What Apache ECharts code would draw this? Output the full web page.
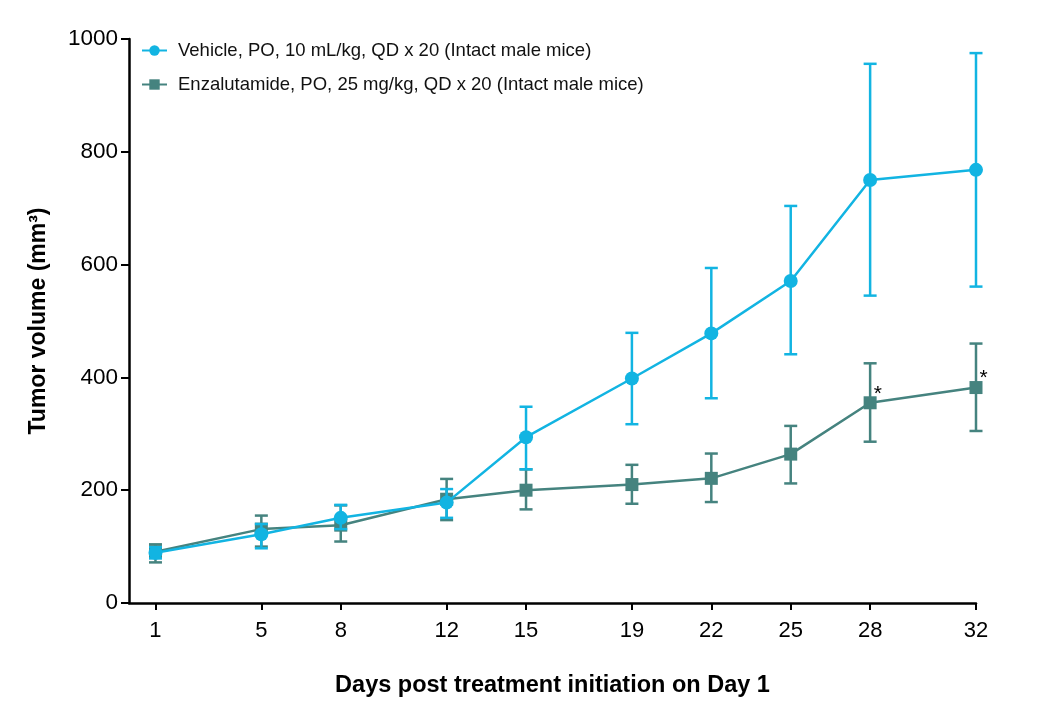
<!DOCTYPE html>
<html>
<head>
<meta charset="utf-8">
<script src="https://cdn.jsdelivr.net/npm/echarts@6/dist/echarts.min.js"></script>
<style>
html,body{margin:0;padding:0;background:#fff;}
#chart{width:1050px;height:717px;}
</style>
</head>
<body>
<div id="chart"></div>
<script>
const days = [1, 5, 8, 12, 15, 19, 22, 25, 28, 32];
const xTickLabels = [1, 5, 8, 12, 15, 19, 22, 25, 28, 32];
const yTicks = [0, 200, 400, 600, 800, 1000];

const vehicleName = 'Vehicle, PO, 10 mL/kg, QD x 20 (Intact male mice)';
const vehicleMean = [89, 122, 151, 178, 294, 398, 478, 571, 750, 768];
const vehicleLow  = [79, 97, 131, 151, 237, 317, 363, 441, 545, 561];
const vehicleHigh = [99, 140, 174, 202, 348, 479, 594, 704, 956, 975];

const enzaName = 'Enzalutamide, PO, 25 mg/kg, QD x 20 (Intact male mice)';
const enzaMean = [91, 131, 138, 184, 200, 210, 221, 264, 355, 382];
const enzaLow  = [72, 100, 109, 147, 166, 176, 179, 212, 286, 305];
const enzaHigh = [104, 155, 173, 220, 237, 245, 265, 314, 425, 460];
const enzaSig  = ['', '', '', '', '', '', '', '', '*', '*'];

const vehicleColor = '#12B4E2';
const enzaColor = '#45837F';
const font = '"Liberation Sans", Arial, sans-serif';

function errorSeries(name, low, high, color, z) {
  return {
    type: 'custom',
    name: name + ' err',
    z: z,
    silent: true,
    data: days.map((d, i) => [d, low[i], high[i]]),
    encode: { x: 0, y: [1, 2] },
    renderItem: function (params, api) {
      const x = api.value(0);
      const lo = api.coord([x, api.value(1)]);
      const hi = api.coord([x, api.value(2)]);
      const hw = 6.5;
      const style = { stroke: color, lineWidth: 2.5 };
      return {
        type: 'group',
        children: [
          { type: 'line', shape: { x1: lo[0], y1: lo[1], x2: hi[0], y2: hi[1] }, style: style },
          { type: 'line', shape: { x1: lo[0] - hw, y1: lo[1], x2: lo[0] + hw, y2: lo[1] }, style: style },
          { type: 'line', shape: { x1: hi[0] - hw, y1: hi[1], x2: hi[0] + hw, y2: hi[1] }, style: style }
        ]
      };
    }
  };
}

const chart = echarts.init(document.getElementById('chart'), null, { renderer: 'canvas' });
chart.setOption({
  animation: false,
  backgroundColor: '#ffffff',
  textStyle: { fontFamily: font },
  grid: { left: 129, right: 74, top: 39, bottom: 114, containLabel: false },
  legend: {
    orient: 'vertical',
    left: 136,
    top: 36,
    itemGap: 15,
    itemWidth: 25,
    itemHeight: 13,
    textStyle: { fontFamily: font, fontSize: 18.5, color: '#111', padding: [0, 0, 0, 6] },
    data: [vehicleName, enzaName]
  },
  xAxis: {
    type: 'value',
    min: 0,
    max: 32,
    name: 'Days post treatment initiation on Day 1',
    nameLocation: 'middle',
    nameGap: 71,
    nameTextStyle: { fontFamily: font, fontSize: 23.5, fontWeight: 'bold', color: '#000' },
    axisLine: { show: true, onZero: false, lineStyle: { color: '#000', width: 2.5 } },
    axisTick: { show: true, customValues: xTickLabels, length: 7, lineStyle: { color: '#000', width: 2 } },
    axisLabel: { customValues: xTickLabels, fontFamily: font, fontSize: 22, color: '#000', margin: 17 },
    splitLine: { show: false }
  },
  yAxis: {
    type: 'value',
    min: 0,
    max: 1000,
    interval: 200,
    name: 'Tumor volume (mm³)',
    nameLocation: 'middle',
    nameGap: 79,
    nameRotate: 90,
    nameTextStyle: { fontFamily: font, fontSize: 23, fontWeight: 'bold', color: '#000' },
    axisLine: { show: true, lineStyle: { color: '#000', width: 2.5 } },
    axisTick: { show: true, customValues: yTicks, length: 8, lineStyle: { color: '#000', width: 2 } },
    axisLabel: { customValues: yTicks, fontFamily: font, fontSize: 22.5, color: '#000', margin: 11,
      formatter: function (v) { return String(v); } },
    splitLine: { show: false }
  },
  series: [
    errorSeries(enzaName, enzaLow, enzaHigh, enzaColor, 1),
    {
      type: 'line',
      name: enzaName,
      z: 2,
      data: days.map((d, i) => ({
        value: [d, enzaMean[i]],
        label: enzaSig[i] ? {
          show: true, formatter: enzaSig[i], position: 'right', offset: [-8, -9],
          fontSize: 21, color: '#000', fontFamily: font
        } : { show: false }
      })),
      symbol: 'rect',
      symbolSize: 13,
      itemStyle: { color: enzaColor },
      lineStyle: { color: enzaColor, width: 2.5 },
      emphasis: { disabled: true }
    },
    errorSeries(vehicleName, vehicleLow, vehicleHigh, vehicleColor, 3),
    {
      type: 'line',
      name: vehicleName,
      z: 4,
      data: days.map((d, i) => [d, vehicleMean[i]]),
      symbol: 'circle',
      symbolSize: 14,
      itemStyle: { color: vehicleColor },
      lineStyle: { color: vehicleColor, width: 2.5 },
      emphasis: { disabled: true }
    }
  ]
});
</script>
</body>
</html>
